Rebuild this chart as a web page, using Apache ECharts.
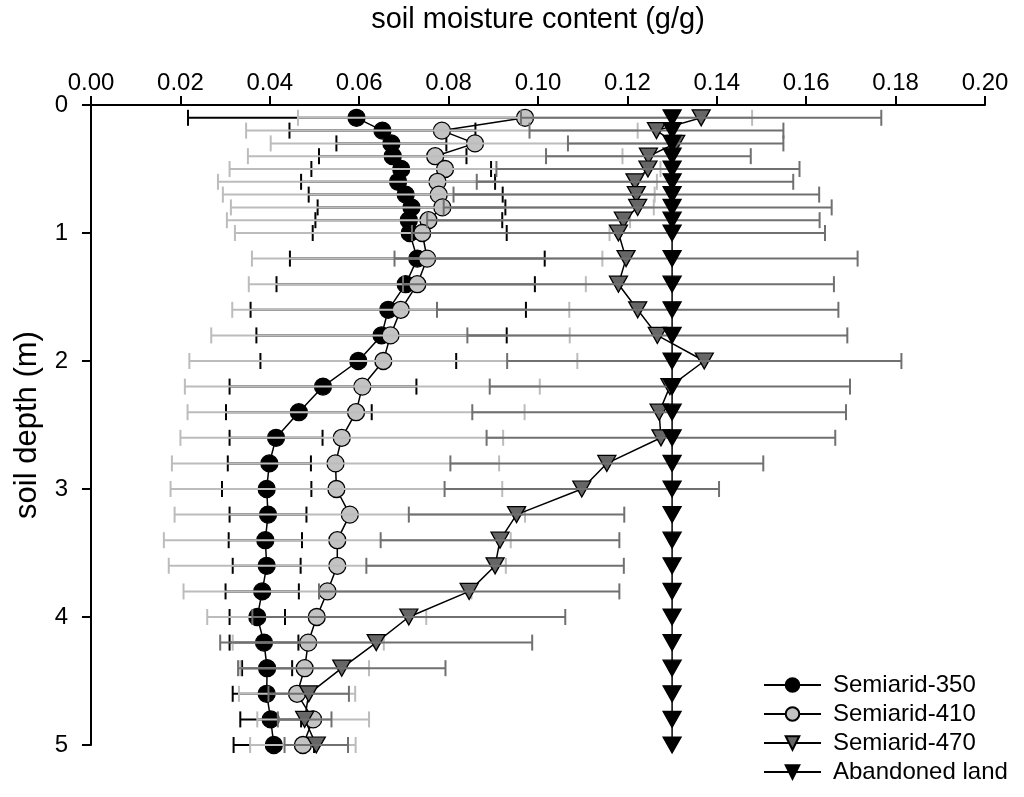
<!DOCTYPE html>
<html>
<head>
<meta charset="utf-8">
<script src="https://cdn.jsdelivr.net/npm/echarts@6/dist/echarts.min.js"></script>
<style>
html,body{margin:0;padding:0;background:#fff;}
#chart{width:1024px;height:797px;}
</style>
</head>
<body>
<div id="chart"></div>
<script>
// Depths (m)
const depths = [0.1,0.2,0.3,0.4,0.5,0.6,0.7,0.8,0.9,1.0,
  1.2,1.4,1.6,1.8,2.0,2.2,2.4,2.6,2.8,3.0,3.2,3.4,3.6,3.8,4.0,4.2,4.4,4.6,4.8,5.0];
const xTicks = [0.00,0.02,0.04,0.06,0.08,0.10,0.12,0.14,0.16,0.18,0.20];
const yTicks = [0,1,2,3,4,5];

const seriesNames = ['Semiarid-350','Semiarid-410','Semiarid-470','Abandoned land'];

const s350 = [0.0594,0.0652,0.0672,0.0675,0.0694,0.0687,0.0704,0.0717,0.0711,0.0713,
  0.0730,0.0704,0.0665,0.0650,0.0598,0.0519,0.0465,0.0414,0.0399,0.0393,
  0.0396,0.0390,0.0393,0.0383,0.0372,0.0387,0.0394,0.0393,0.0402,0.0409];
const sd350 = [0.0377,0.0208,0.0123,0.0165,0.0201,0.0217,0.0217,0.0210,0.0209,0.0217,
  0.0285,0.0289,0.0308,0.0280,0.0219,0.0209,0.0163,0.0104,0.0093,0.0100,
  0.0086,0.0082,0.0076,0.0082,0.0062,0.0077,0.0056,0.0076,0.0068,0.0090];

const s410 = [0.0971,0.0785,0.0859,0.0770,0.0792,0.0775,0.0778,0.0786,0.0755,0.0741,
  0.0752,0.0730,0.0693,0.0670,0.0654,0.0607,0.0593,0.0561,0.0547,0.0549,
  0.0579,0.0551,0.0551,0.0529,0.0505,0.0486,0.0478,0.0461,0.0497,0.0474];
const sd410 = [0.0508,0.0438,0.0457,0.0419,0.0482,0.0491,0.0483,0.0473,0.0451,0.0419,
  0.0392,0.0377,0.0377,0.0401,0.0434,0.0397,0.0377,0.0361,0.0366,0.0371,
  0.0392,0.0388,0.0377,0.0322,0.0245,0.0169,0.0144,0.0130,0.0125,0.0118];

const s470 = [0.1365,0.1265,0.1308,0.1247,0.1246,0.1217,0.1220,0.1223,0.1191,0.1180,
  0.1197,0.1180,0.1223,0.1267,0.1372,0.1295,0.1271,0.1275,0.1154,0.1098,
  0.0952,0.0915,0.0904,0.0846,0.0711,0.0638,0.0561,0.0487,0.0478,0.0504];
const sd470 = [0.0403,0.0284,0.0241,0.0229,0.0339,0.0354,0.0409,0.0434,0.0439,0.0462,
  0.0518,0.0482,0.0449,0.0425,0.0441,0.0403,0.0418,0.0390,0.0350,0.0307,
  0.0241,0.0267,0.0288,0.0336,0.0350,0.0349,0.0232,0.0090,0.0060,0.0071];

const sAband = [0.13,0.13,0.13,0.13,0.13,0.13,0.13,0.13,0.13,0.13,
  0.13,0.13,0.13,0.13,0.13,0.13,0.13,0.13,0.13,0.13,
  0.13,0.13,0.13,0.13,0.13,0.13,0.13,0.13,0.13,0.13];

const FONT = 'Liberation Sans, Arial, sans-serif';

function pts(vals){ return vals.map((v,i)=>[v, depths[i]]); }
function errData(vals, sds){ return vals.map((v,i)=>[v - sds[i], v + sds[i], depths[i]]); }

function errSeries(name, vals, sds, color, z){
  return {
    type:'custom', name: name + ' err', z: z, silent:true,
    data: errData(vals, sds),
    encode:{x:[0,1], y:2},
    renderItem: function(params, api){
      const lo = api.coord([api.value(0), api.value(2)]);
      const hi = api.coord([api.value(1), api.value(2)]);
      const h = 8;
      const st = {stroke: color, lineWidth: 2};
      return {type:'group', children:[
        {type:'line', shape:{x1:lo[0], y1:lo[1], x2:hi[0], y2:hi[1]}, style: st},
        {type:'line', shape:{x1:lo[0], y1:lo[1]-h, x2:lo[0], y2:lo[1]+h}, style: st},
        {type:'line', shape:{x1:hi[0], y1:hi[1]-h, x2:hi[0], y2:hi[1]+h}, style: st}
      ]};
    }
  };
}

function lineSeries(name, vals, symbol, size, fill, rotate, z){
  return {
    type:'line', name: name, z: z,
    data: pts(vals),
    symbol: symbol, symbolSize: size, symbolRotate: rotate,
    showAllSymbol: true,
    lineStyle:{color:'#000', width:1.5},
    itemStyle:{color: fill, borderColor:'#000', borderWidth:1.3},
    emphasis:{disabled:true},
    animation:false
  };
}

const chart = echarts.init(document.getElementById('chart'), null, {renderer:'canvas'});
chart.setOption({
  backgroundColor:'#fff',
  animation:false,
  grid:{left:91, right:39, top:105, bottom:52, containLabel:false, outerBoundsMode:'none'},
  xAxis:{
    type:'value', position:'top', min:0, max:0.2, interval:0.02,
    name:'soil moisture content (g/g)', nameLocation:'middle', nameGap:71,
    nameTextStyle:{fontFamily:FONT, fontSize:29, color:'#000'},
    axisLine:{show:true, lineStyle:{color:'#000', width:2}},
    axisTick:{show:true, inside:false, length:9, lineStyle:{color:'#000', width:2}},
    axisLabel:{fontFamily:FONT, fontSize:24, color:'#000', margin:10,
      formatter: v => v.toFixed(2)},
    splitLine:{show:false}
  },
  yAxis:{
    type:'value', inverse:true, min:0, max:5, interval:1,
    name:'soil depth (m)', nameLocation:'middle', nameGap:48,
    nameTextStyle:{fontFamily:FONT, fontSize:31, color:'#000'},
    axisLine:{show:true, lineStyle:{color:'#000', width:2}},
    axisTick:{show:true, inside:false, length:9, lineStyle:{color:'#000', width:2}},
    axisLabel:{fontFamily:FONT, fontSize:24, color:'#000', margin:23},
    splitLine:{show:false}
  },
  legend:{
    orient:'vertical', left:763, top:673, padding:0,
    itemWidth:57, itemHeight:17, itemGap:5,
    data: seriesNames,
    textStyle:{fontFamily:FONT, fontSize:24, color:'#000', padding:[0,0,0,7]},
    selectedMode:false
  },
  series:[
    lineSeries(seriesNames[0], s350, 'circle', 17, '#000', 0, 2),
    errSeries(seriesNames[0], s350, sd350, '#000', 3),
    lineSeries(seriesNames[1], s410, 'circle', 17, '#c3c3c3', 0, 4),
    errSeries(seriesNames[1], s410, sd410, '#bcbcbc', 5),
    lineSeries(seriesNames[2], s470, 'triangle', [18,16], '#666', 180, 6),
    errSeries(seriesNames[2], s470, sd470, '#707070', 7),
    lineSeries(seriesNames[3], sAband, 'triangle', [18,16], '#000', 180, 8)
  ]
});
</script>
</body>
</html>
